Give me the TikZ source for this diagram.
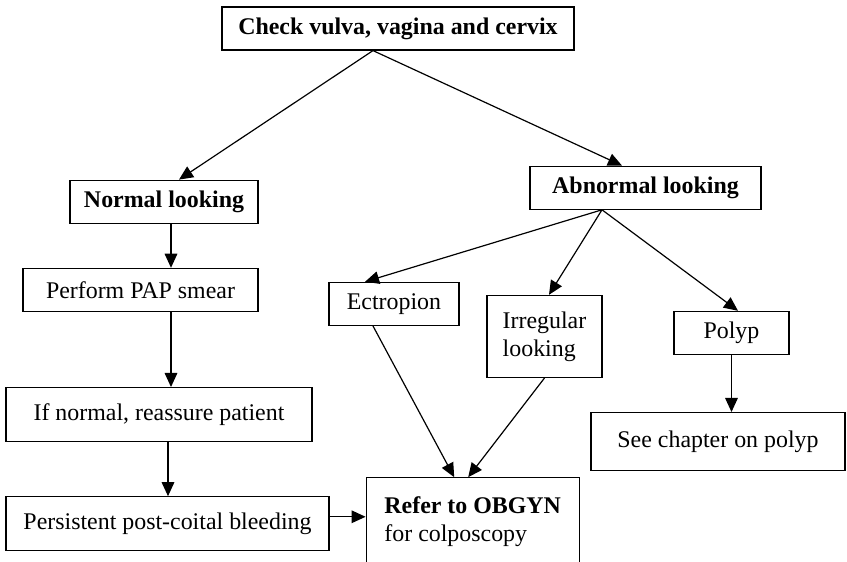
\documentclass[tikz,border=0pt]{standalone}
\usepackage{fontspec}
\setmainfont{Liberation Serif}
\usetikzlibrary{arrows.meta, positioning}

\begin{document}
\begin{tikzpicture}[
      every node/.style={draw, line width=0.85pt, font=\fontsize{17}{20}\selectfont, minimum height=1.075cm, inner xsep=2pt, align=left},
      bold/.style={font=\fontsize{17}{20}\selectfont\bfseries},
      arrow/.style={-{Triangle[length=10pt, width=9pt]}, line width=0.85pt}
    ]
    \useasboundingbox (0,0) rectangle (21.175,-14.05);

    \node (check) [bold, minimum width=8.8cm] at (9.95,-0.7125) {Check vulva, vagina and cervix};

    \node (normal) [bold, minimum width=4.7cm, below=3.225cm of check, xshift=-5.85cm] {Normal looking};
    \node (abnormal) [bold, minimum width=5.775cm, below=2.875cm of check, xshift=6.1875cm] {Abnormal looking};

    \node (pap) [minimum width=5.875cm, below=1.1cm of normal, xshift=-0.5875cm] {Perform PAP smear};
    \node (reassure) [minimum width=7.65cm, minimum height=1.35cm, below=1.875cm of pap, xshift=0.4625cm] {If normal, reassure patient};
    \node (persist) [minimum width=8.075cm, minimum height=1.35cm, below=1.35cm of reassure, xshift=0.2125cm] {Persistent post-coital bleeding};

    \node (ectropion) [minimum width=3.25cm, below=1.8cm of abnormal, xshift=-6.2875cm] {Ectropion};
    \node (irregular) [minimum width=2.875cm, minimum height=2.05cm, below=2.125cm of abnormal, xshift=-2.525cm] {Irregular\\looking};
    \node (polyp) [minimum width=2.875cm, below=2.525cm of abnormal, xshift=2.15cm] {Polyp};
    \node (chapter) [minimum width=6.35cm, minimum height=1.45cm, below=1.425cm of polyp, xshift=-0.3375cm] {See chapter on polyp};

    \node (refer) [minimum width=5.325cm, minimum height=2.175cm, right=0.9cm of persist, yshift=0.0625cm] {\textbf{Refer to OBGYN}\\for colposcopy};

    \draw[arrow] ([xshift=-0.625cm]check.south) -- ([xshift=0.375cm]normal.north);
    \draw[arrow] ([xshift=-0.625cm]check.south) -- ([xshift=-0.5875cm]abnormal.north);

    \draw[arrow] ([xshift=0.175cm]normal.south) -- ([xshift=0.175cm]normal.south |- pap.north);
    \draw[arrow] ([xshift=0.7625cm]pap.south) -- ([xshift=0.7625cm]pap.south |- reassure.north);
    \draw[arrow] ([xshift=0.225cm]reassure.south) -- ([xshift=0.225cm]reassure.south |- persist.north);
    \draw[arrow] ([yshift=0.175cm]persist.east) -- ([yshift=0.175cm]persist.east -| refer.west);

    \draw[arrow] ([xshift=-1.0875cm]abnormal.south) -- ([xshift=-0.725cm]ectropion.north);
    \draw[arrow] ([xshift=-1.0875cm]abnormal.south) -- ([xshift=0.1125cm]irregular.north);
    \draw[arrow] ([xshift=-1.0875cm]abnormal.south) -- ([xshift=0.1625cm]polyp.north);
    \draw[arrow] (polyp.south) -- (polyp.south |- chapter.north);

    \draw[arrow] ([xshift=-0.525cm]ectropion.south) -- ([xshift=-0.4625cm]refer.north);
    \draw[arrow] (irregular.south) -- ([xshift=-0.1125cm]refer.north);

    \end{tikzpicture}
\end{document}
